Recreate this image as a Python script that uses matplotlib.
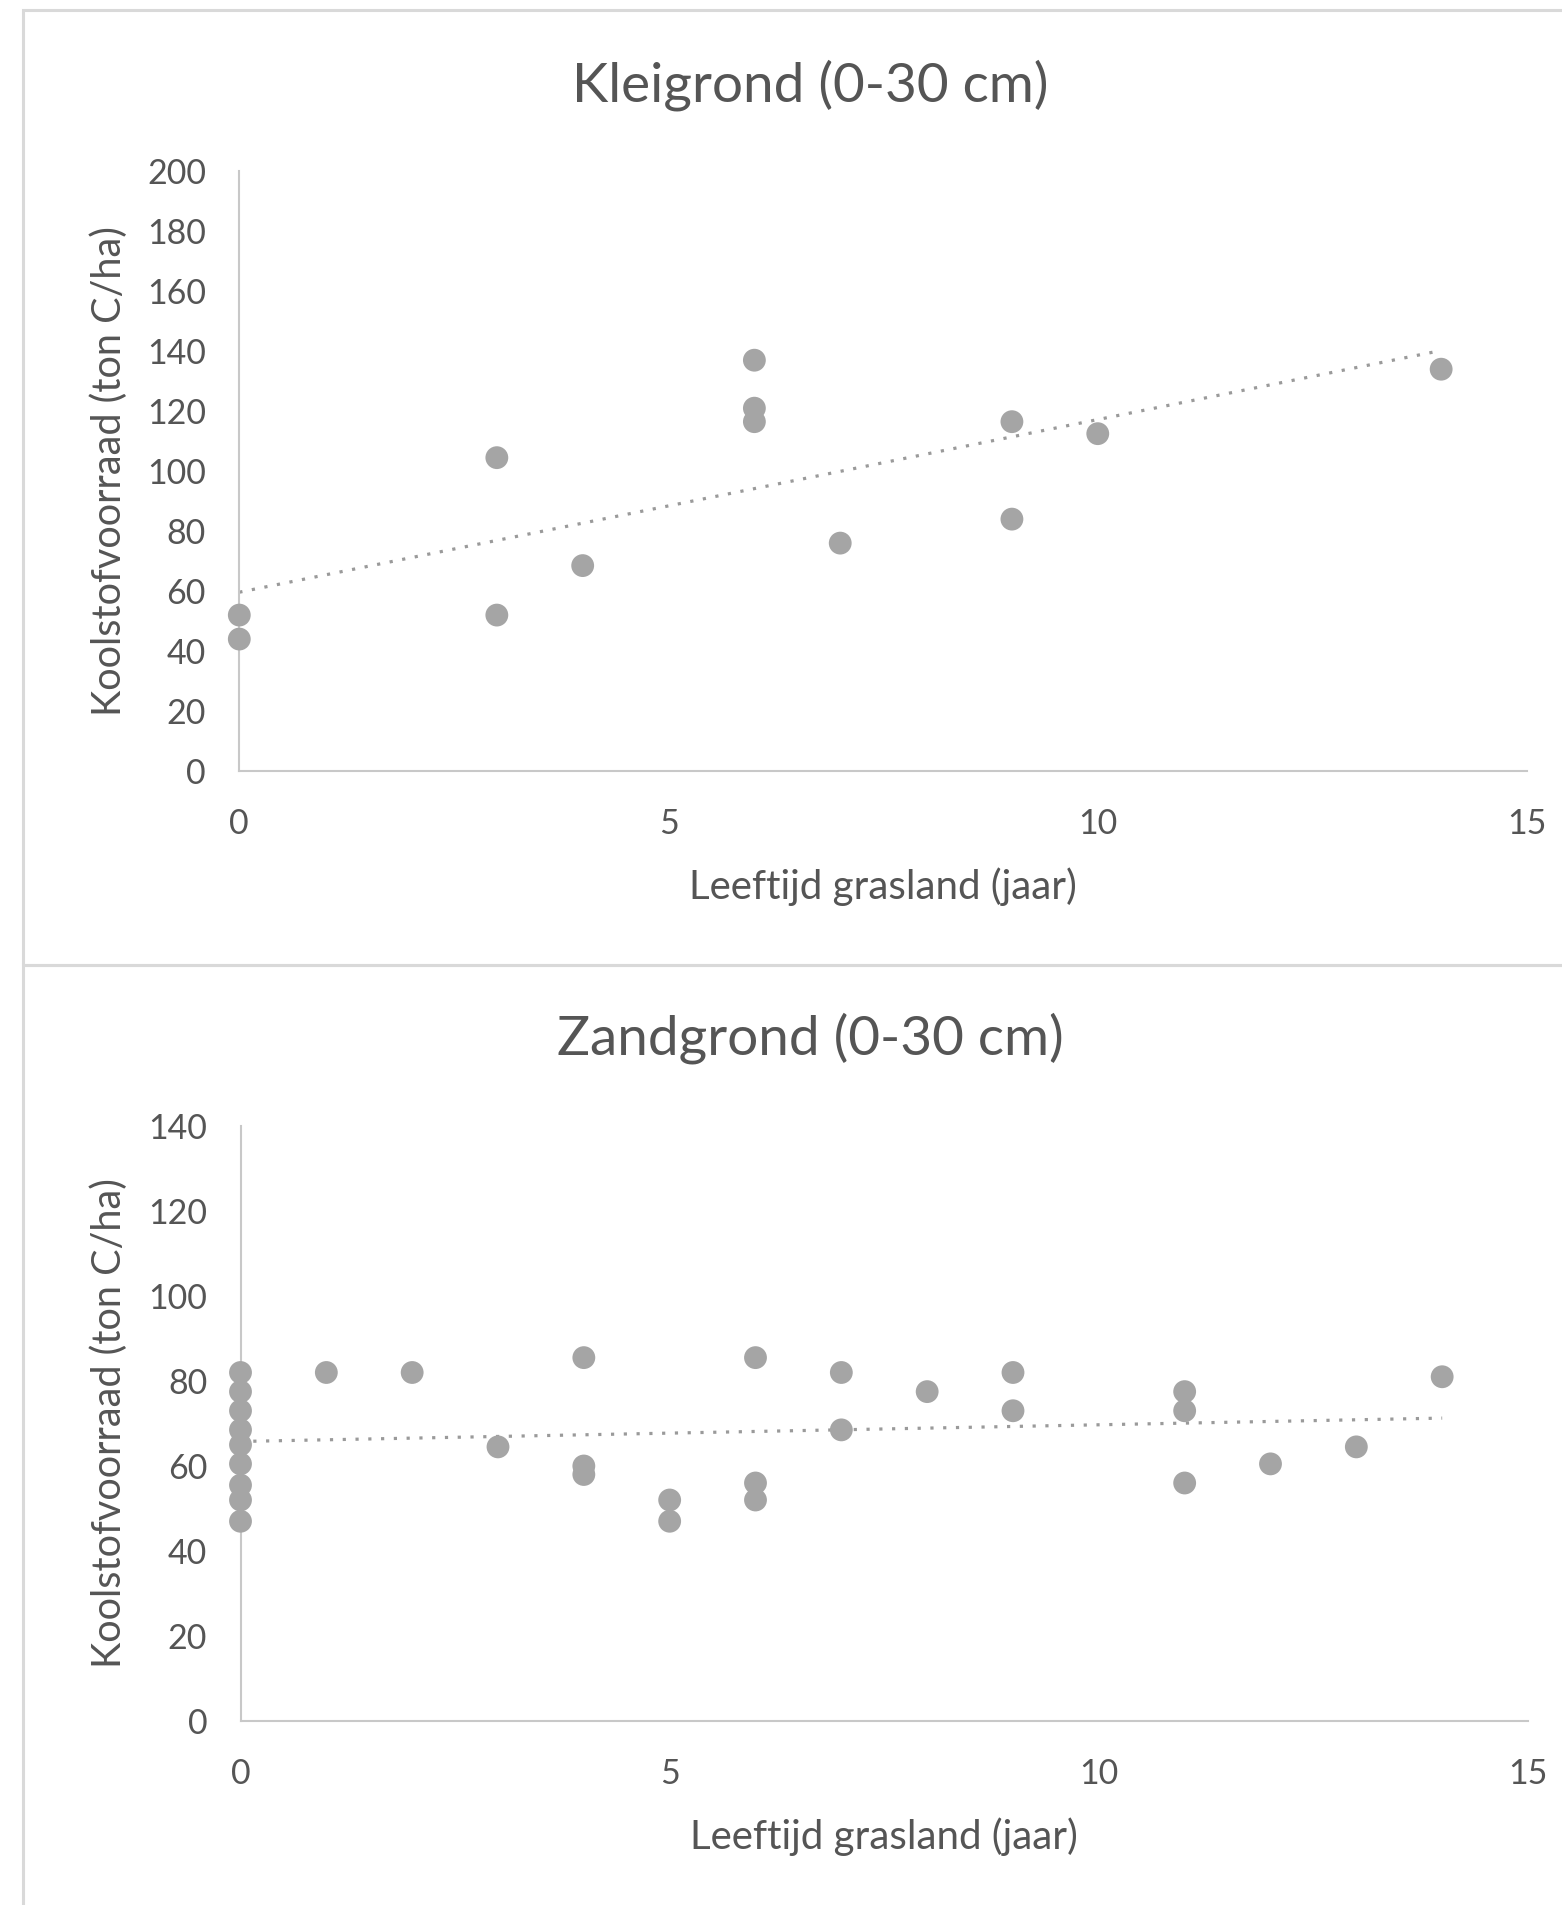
import matplotlib.pyplot as plt
import numpy as np
from matplotlib.patches import Rectangle

plt.rcParams["font.family"] = ["Lato", "DejaVu Sans"]

# Kleigrond (0-30 cm)
klei_leeftijd = [0, 0, 3, 3, 4, 6, 6, 6, 7, 9, 9, 10, 14]
klei_koolstof = [52, 44, 104.5, 52, 68.5, 137, 121, 116.5, 76, 116.5, 84, 112.5, 134]

# Zandgrond (0-30 cm)
zand_leeftijd = [0, 0, 0, 0, 0, 0, 0, 0, 0, 1, 2, 3, 4, 4, 4, 5, 5,
                 6, 6, 6, 7, 7, 8, 9, 9, 11, 11, 11, 12, 13, 14]
zand_koolstof = [82, 77.5, 73, 68.5, 65, 60.5, 55.5, 52, 47, 82, 82, 64.5, 85.5, 60, 58, 52, 47,
                 85.5, 56, 52, 82, 68.5, 77.5, 82, 73, 77.5, 73, 56, 60.5, 64.5, 81]

x_ticks = [0, 5, 10, 15]
x_label = "Leeftijd grasland (jaar)"
y_label = "Koolstofvoorraad (ton C/ha)"

text_color = "#555555"
axis_color = "#c8c8c8"
point_color = "#a5a5a5"

W, H = 1562, 1905
fig = plt.figure(figsize=(W / 100, H / 100), dpi=100)

# chart area borders (like the Excel chart frames)
fig.patches.append(Rectangle((23 / W, 1 - 965 / H), 1.0, (965 - 10) / H, transform=fig.transFigure,
                             fill=False, edgecolor="#d9d9d9", linewidth=2.2))
fig.patches.append(Rectangle((23 / W, -0.01), 1.0, 1 - 965 / H + 0.01, transform=fig.transFigure,
                             fill=False, edgecolor="#d9d9d9", linewidth=2.2))


def draw_panel(px_left, px_top, px_right, px_bottom, leeftijd, koolstof, title, title_y, ymax):
    ax = fig.add_axes([px_left / W, 1 - px_bottom / H, (px_right - px_left) / W, (px_bottom - px_top) / H])
    ax.scatter(leeftijd, koolstof, s=270, color=point_color, edgecolors="none", clip_on=False, zorder=3)

    # linear trend line (dotted), fitted on the data
    a, b = np.polyfit(leeftijd, koolstof, 1)
    xs = np.array([min(leeftijd), max(leeftijd)])
    ax.plot(xs, a * xs + b, linestyle=(0, (1.0, 3.0)), linewidth=2.3, color="#9a9a9a",
            dash_capstyle="butt", zorder=2)

    ax.set_xlim(0, 15)
    ax.set_ylim(0, ymax)
    ax.set_xticks(x_ticks)
    ax.set_yticks(range(0, ymax + 1, 20))
    for side in ["top", "right"]:
        ax.spines[side].set_visible(False)
    for side in ["left", "bottom"]:
        ax.spines[side].set_color(axis_color)
        ax.spines[side].set_linewidth(1.5)
    ax.tick_params(axis="both", length=0, labelsize=24.5, labelcolor=text_color)
    ax.tick_params(axis="y", pad=24)
    ax.tick_params(axis="x", pad=27)

    ax.set_xlabel(x_label, fontsize=29, color=text_color, va="center")
    ax.set_ylabel(y_label, fontsize=28.5, color=text_color, va="center")
    ax.xaxis.set_label_coords(0.5, -116 / (px_bottom - px_top))
    ax.yaxis.set_label_coords(-(px_left - 109) / (px_right - px_left), 0.5)

    fig.text(810 / W, 1 - title_y / H, title, fontsize=39.5, color=text_color, ha="center", va="center")
    return ax


draw_panel(239.3, 171.3, 1527, 771, klei_leeftijd, klei_koolstof, "Kleigrond (0-30 cm)", 85, 200)
draw_panel(240.5, 1126, 1528, 1721, zand_leeftijd, zand_koolstof, "Zandgrond (0-30 cm)", 1038, 140)

plt.savefig("out.png", dpi=100)
